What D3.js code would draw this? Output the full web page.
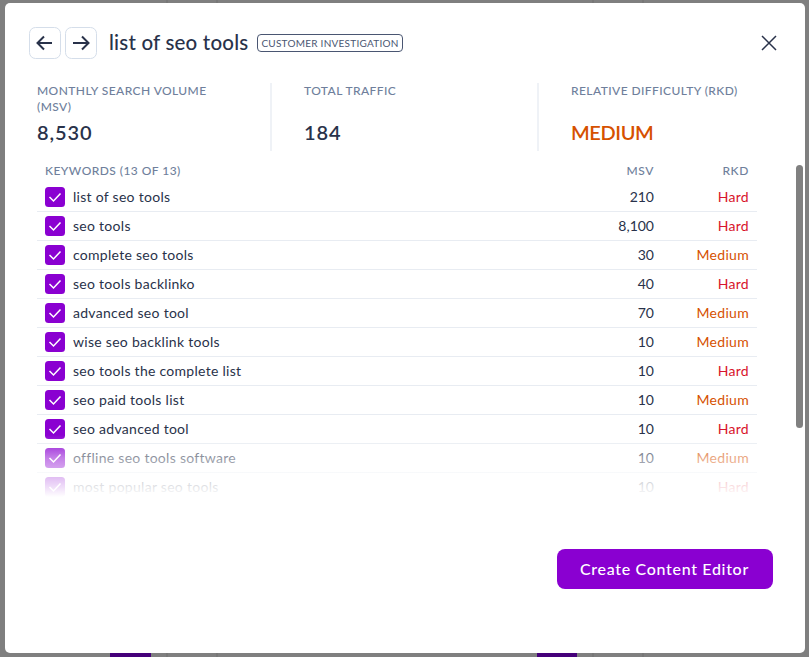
<!DOCTYPE html>
<html>
<head>
<meta charset="utf-8">
<script src="https://cdn.jsdelivr.net/npm/d3@7"></script>
<style>
html, body { margin:0; padding:0; background:#7f7f7f; overflow:hidden; }
svg { display:block; }
text { font-family:Lato, "Open Sans", sans-serif; }
</style>
</head>
<body>
<script>
// keyword table
var keywords = ["list of seo tools","seo tools","complete seo tools","seo tools backlinko","advanced seo tool",
  "wise seo backlink tools","seo tools the complete list","seo paid tools list","seo advanced tool",
  "offline seo tools software","most popular seo tools"];
var msvValues = [210,8100,30,40,70,10,10,10,10,10,10];
var rkdValues = ["Hard","Hard","Medium","Hard","Medium","Medium","Hard","Medium","Hard","Medium","Hard"];

// summary tiles
var tileLabels = [["MONTHLY SEARCH VOLUME","(MSV)"],["TOTAL TRAFFIC"],["RELATIVE DIFFICULTY (RKD)"]];
var tileValues = ["8,530","184","MEDIUM"];

var width = 809, height = 657;
var ink = "#29324a", muted = "#6f7f9c", purple = "#8a00d1", line = "#e8ecf2";
var rkdColor = d3.scaleOrdinal().domain(["Hard","Medium"]).range(["#d8142c","#d65100"]);

var svg = d3.select("body").append("svg").attr("width",width).attr("height",height);
var defs = svg.append("defs");

var fade = defs.append("linearGradient").attr("id","fade").attr("x1",0).attr("x2",0).attr("y1",0).attr("y2",1);
fade.append("stop").attr("offset",0).attr("stop-color","#fff").attr("stop-opacity",0);
fade.append("stop").attr("offset",0.37).attr("stop-color","#fff").attr("stop-opacity",0.5);
fade.append("stop").attr("offset",0.84).attr("stop-color","#fff").attr("stop-opacity",0.87);
fade.append("stop").attr("offset",1).attr("stop-color","#fff").attr("stop-opacity",1);

// page behind the dialog
[167,217,593,643].forEach(function(x){
  svg.append("line").attr("x1",x).attr("x2",x).attr("y1",0).attr("y2",height).attr("stroke","#707070");
});
svg.append("rect").attr("x",110).attr("y",640).attr("width",41).attr("height",17).attr("fill","#45007a");
svg.append("rect").attr("x",537).attr("y",640).attr("width",40).attr("height",17).attr("fill","#45007a");

// dialog
svg.append("rect").attr("x",5).attr("y",3).attr("width",800).attr("height",650).attr("rx",5).attr("fill","#fff");

// back / forward buttons
var arrows = ["M52 43H37.5M44 36.5L37.5 43L44 49.5","M73 43H88.5M82 36.5L88.5 43L82 49.5"];
[29.5,65.5].forEach(function(x,i){
  svg.append("rect").attr("x",x).attr("y",27.5).attr("width",31).attr("height",31).attr("rx",6)
    .attr("fill","#fff").attr("stroke","#d5deea");
  svg.append("path").attr("d",arrows[i]).attr("fill","none").attr("stroke",ink).attr("stroke-width",2);
});

svg.append("text").attr("x",109).attr("y",50).attr("font-size",20.5).attr("font-weight",500)
  .attr("letter-spacing",0.2).attr("fill",ink).text("list of seo tools");
svg.append("rect").attr("x",257.5).attr("y",34.5).attr("width",145).attr("height",17).attr("rx",3.5)
  .attr("fill","none").attr("stroke","#4a5672");
svg.append("text").attr("x",330).attr("y",47).attr("text-anchor","middle").attr("font-size",10)
  .attr("letter-spacing",0.25).attr("fill","#4a5672").text("CUSTOMER INVESTIGATION");

// close
svg.append("path").attr("d","M762 36L776 50M776 36L762 50").attr("stroke",ink).attr("stroke-width",1.5);

// summary tiles
var tileX = d3.scalePoint().domain(d3.range(tileValues.length)).range([37,571]);
tileValues.forEach(function(v,i){
  var x = tileX(i);
  tileLabels[i].forEach(function(t,j){
    svg.append("text").attr("x",x).attr("y",95+j*16).attr("font-size",12).attr("font-weight",500)
      .attr("letter-spacing",0.42).attr("fill",muted).text(t);
  });
  svg.append("text").attr("x",x).attr("y",140).attr("font-size",20).attr("font-weight",600)
    .attr("letter-spacing",i==2?-0.4:0.9).attr("fill",i==2?rkdColor("Medium"):ink).text(v);
  if(i>0) svg.append("line").attr("x1",x-33).attr("x2",x-33).attr("y1",83).attr("y2",151).attr("stroke","#dfe5ee");
});

// table header
var msvRight = 654, rkdRight = 749;
function header(x,t,anchor){
  svg.append("text").attr("x",x).attr("y",175).attr("text-anchor",anchor).attr("font-size",12).attr("font-weight",500)
    .attr("letter-spacing",anchor=="start"?0.45:0.62).attr("fill",muted).text(t);
}
header(45,"KEYWORDS (13 OF 13)","start");
header(msvRight,"MSV","end");
header(rkdRight,"RKD","end");

// rows
var y = d3.scaleLinear().domain([0,keywords.length-1]).range([197,487]);
var fmt = d3.format(",");

var rows = svg.append("g").selectAll("g").data(keywords).join("g")
  .attr("transform",function(d,i){ return "translate(0,"+y(i)+")"; });

rows.append("line").attr("x1",37).attr("x2",757).attr("y1",14.5).attr("y2",14.5).attr("stroke",line);
rows.append("rect").attr("x",45).attr("y",-10).attr("width",20).attr("height",20).attr("rx",3.5).attr("fill",purple);
rows.append("path").attr("d","M49.5 0L53.5 4L60.5 -3.5").attr("fill","none").attr("stroke","#fff").attr("stroke-width",1.5);
rows.append("text").attr("x",73).attr("y",5).attr("font-size",14).attr("letter-spacing",0.28).attr("fill",ink)
  .text(function(d){ return d; });
rows.append("text").attr("x",msvRight).attr("y",5).attr("text-anchor","end").attr("font-size",14).attr("fill",ink)
  .text(function(d,i){ return fmt(msvValues[i]); });
rows.append("text").attr("x",rkdRight).attr("y",5).attr("text-anchor","end").attr("font-size",14).attr("letter-spacing",0.3)
  .attr("fill",function(d,i){ return rkdColor(rkdValues[i]); })
  .text(function(d,i){ return rkdValues[i]; });

// list fades out into the dialog
svg.append("rect").attr("x",30).attr("y",435).attr("width",760).attr("height",62).attr("fill","url(#fade)");
svg.append("rect").attr("x",30).attr("y",497).attr("width",760).attr("height",20).attr("fill","#fff");

// scrollbar
svg.append("rect").attr("x",796).attr("y",165).attr("width",7).attr("height",263).attr("rx",3.5).attr("fill","#808080");

// button
svg.append("rect").attr("x",557).attr("y",549).attr("width",216).attr("height",40).attr("rx",8).attr("fill",purple);
svg.append("text").attr("x",664.5).attr("y",575).attr("text-anchor","middle").attr("font-size",16).attr("font-weight",500)
  .attr("letter-spacing",0.68).attr("fill","#fff").text("Create Content Editor");
</script>
</body>
</html>
